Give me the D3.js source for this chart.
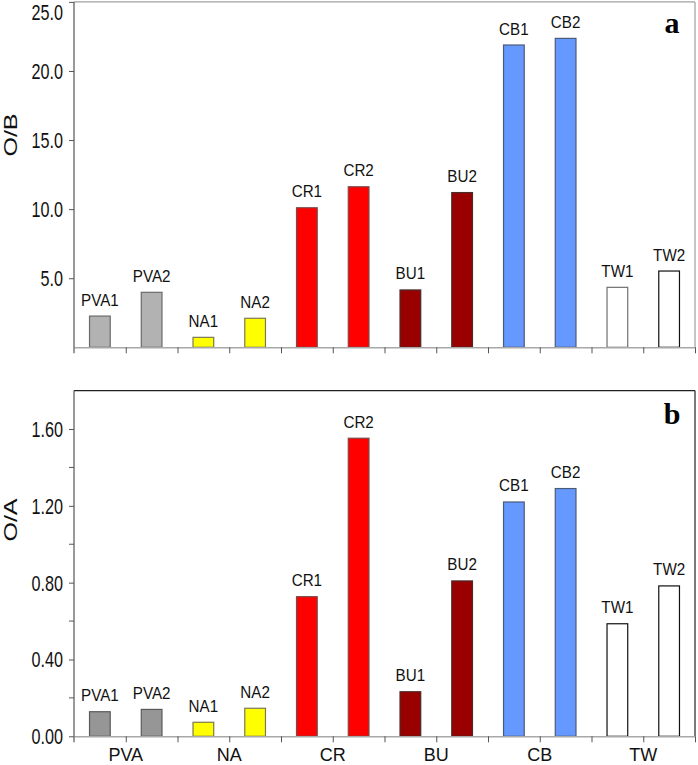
<!DOCTYPE html>
<html><head><meta charset="utf-8">
<script src="https://cdn.jsdelivr.net/npm/d3@7"></script>
<style>html,body{margin:0;padding:0;background:#fff;} svg{display:block;}</style>
</head><body>
<svg id="chart" width="698" height="765"></svg>
<script>
// ---- data ----
const groups = ["PVA", "NA", "CR", "BU", "CB", "TW"];
const samples = ["PVA1","PVA2","NA1","NA2","CR1","CR2","BU1","BU2","CB1","CB2","TW1","TW2"];
const obValues = [2.26, 3.98, 0.72, 2.10, 10.10, 11.62, 4.15, 11.20, 21.88, 22.36, 4.34, 5.52];
const oaValues = [0.128, 0.140, 0.073, 0.146, 0.727, 1.552, 0.232, 0.809, 1.220, 1.290, 0.586, 0.783];
const obTicks = [5, 10, 15, 20, 25];
const oaTicks = [0, 0.4, 0.8, 1.2, 1.6];
const oaMinorTicks = [0.2, 0.6, 1.0, 1.4];
const topFill = ["#b2b2b2","#b2b2b2","#ffff00","#ffff00","#ff0000","#ff0000","#990000","#990000","#6699ff","#6699ff","#ffffff","#ffffff"];
const topStroke = ["#6a6a6a","#6a6a6a","#7a7a50","#7a7a50","#7a4a4a","#7a4a4a","#4a2a2a","#4a2a2a","#4a5a7a","#4a5a7a","#707070","#111111"];
const botFill = ["#969696","#969696","#ffff00","#ffff00","#ff0000","#ff0000","#990000","#990000","#6699ff","#6699ff","#ffffff","#ffffff"];
const botStroke = ["#5a5a5a","#5a5a5a","#7a7a50","#7a7a50","#7a4a4a","#7a4a4a","#4a2a2a","#4a2a2a","#4a5a7a","#4a5a7a","#111111","#111111"];

const svg = d3.select("#chart");
const X0 = 74, X1 = 695;
const FONT = "'Liberation Sans', Arial, sans-serif";

const x = d3.scaleBand().domain(samples).range([X0, X1]).paddingInner(0.6).paddingOuter(0.3);
const xb = d3.scaleLinear().domain([0, samples.length]).range([X0, X1]);

function stretchText(sel, sy) {
  sel.each(function() {
    const t = d3.select(this);
    const tx = +t.attr("x") || 0, ty = +t.attr("y") || 0;
    t.attr("x", 0).attr("y", 0).attr("transform", `translate(${tx},${ty}) scale(1,${sy})`);
  });
}

function panel(cfg) {
  const g = svg.append("g");
  const y = d3.scaleLinear().domain(cfg.domain).range([cfg.base, cfg.top]);

  // frame (top & right)
  g.append("line").attr("x1", X0).attr("x2", X1).attr("y1", cfg.top).attr("y2", cfg.top)
    .attr("stroke", cfg.frameColor).attr("stroke-width", 1.2);
  g.append("line").attr("x1", X1).attr("x2", X1).attr("y1", cfg.top).attr("y2", cfg.base)
    .attr("stroke", cfg.frameColor).attr("stroke-width", 1.2);

  // bars
  g.selectAll("rect.bar").data(samples).join("rect").attr("class", "bar")
    .attr("x", d => x(d)).attr("width", x.bandwidth())
    .attr("y", (d, i) => y(cfg.values[i]))
    .attr("height", (d, i) => y(0) - y(cfg.values[i]))
    .attr("fill", (d, i) => cfg.fill[i]).attr("stroke", (d, i) => cfg.stroke[i]).attr("stroke-width", 1.2);

  // bar labels
  g.selectAll("text.blab").data(samples).join("text").attr("class", "blab")
    .attr("x", d => x(d) + x.bandwidth() / 2)
    .attr("y", (d, i) => y(cfg.values[i]) - 10.5)
    .attr("text-anchor", "middle").attr("font-family", FONT).attr("font-size", 15.2).attr("fill", "#111")
    .text(d => d)
    .call(stretchText, 1.08);

  // baseline with boundary ticks
  const xa = g.append("g").attr("transform", `translate(0,${cfg.base})`)
    .call(d3.axisBottom(xb).tickValues(d3.range(1, samples.length + 1)).tickFormat("").tickSize(6).tickSizeOuter(0));
  xa.select(".domain").attr("stroke", "#a8a8a8").attr("stroke-width", 1.5);
  xa.selectAll(".tick line").attr("stroke", "#555");

  // left axis
  const ya = g.append("g").attr("transform", `translate(${X0},0)`)
    .call(d3.axisLeft(y).tickValues(cfg.ticks).tickFormat(cfg.fmt).tickSize(5).tickSizeOuter(0));
  ya.select(".domain").attr("stroke", "#555").attr("stroke-width", 1.2)
    .attr("d", `M0,${cfg.top}V${cfg.base + 6}`);
  ya.selectAll(".tick line").attr("stroke", "#555");
  ya.selectAll(".tick text").attr("x", -11).attr("dy", null).attr("dominant-baseline", "central")
    .attr("font-family", FONT).attr("font-size", 16.2).attr("fill", "#111")
    .each(function(d) {
      const t = d3.select(this);
      let yy = 0;
      if (y(d) < cfg.top + 6) yy = 10.5;
      t.attr("y", null).attr("transform", `translate(-11,${yy}) scale(1,1.35)`).attr("x", 0);
    });
  if (cfg.minor) {
    g.selectAll("line.minor").data(cfg.minor).join("line").attr("class", "minor")
      .attr("x1", X0 - 5).attr("x2", X0).attr("y1", d => y(d)).attr("y2", d => y(d)).attr("stroke", "#555");
  }

  // y title
  g.append("text").attr("transform", `translate(${cfg.titleX},${cfg.titleY}) rotate(-90) scale(1.32,1)`)
    .attr("text-anchor", "middle").attr("font-family", FONT).attr("font-size", 19).attr("fill", "#111")
    .text(cfg.title);

  // panel letter
  g.append("text").attr("x", 672).attr("y", cfg.letterY).attr("text-anchor", "middle")
    .attr("font-family", "'Liberation Serif', 'Times New Roman', serif").attr("font-weight", "bold")
    .attr("font-size", 30).attr("fill", "#000").text(cfg.letter);
  return g;
}

panel({
  domain: [0, 25], base: 347.3, top: 1.9, values: obValues, fill: topFill, stroke: topStroke,
  ticks: obTicks, fmt: d3.format(".1f"), frameColor: "#a0a0a0", title: "O/B", titleX: 17, titleY: 135,
  letter: "a", letterY: 33
});
const bot = panel({
  domain: [0, 1.8], base: 736.3, top: 390.6, values: oaValues, fill: botFill, stroke: botStroke,
  ticks: oaTicks, fmt: d3.format(".2f"), minor: oaMinorTicks, frameColor: "#222", title: "O/A", titleX: 17, titleY: 520,
  letter: "b", letterY: 424
});

// group labels
bot.selectAll("text.glab").data(groups).join("text").attr("class", "glab")
  .attr("x", (d, i) => xb(2 * i + 1)).attr("y", 761)
  .attr("text-anchor", "middle").attr("font-family", FONT).attr("font-size", 18).attr("fill", "#111")
  .text(d => d)
  .call(stretchText, 1.05);
</script>
</body></html>
